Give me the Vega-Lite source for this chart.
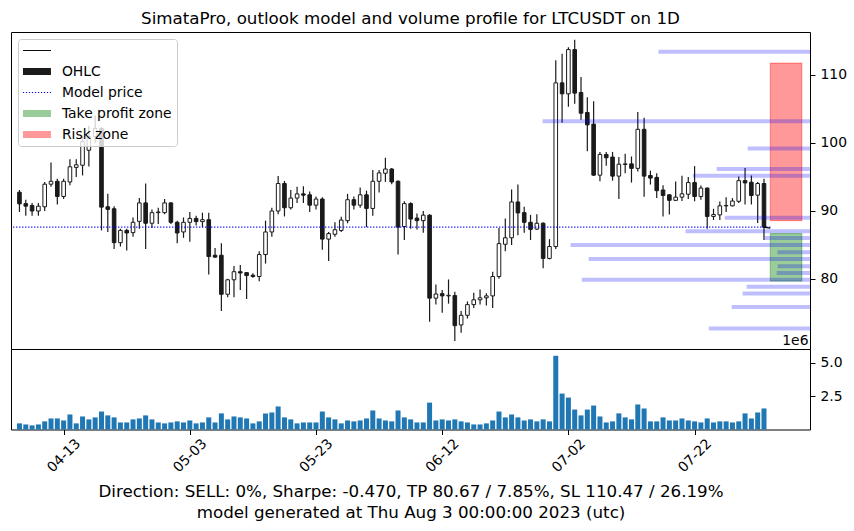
{
  "$schema": "https://vega.github.io/schema/vega-lite/v6.json",
  "background": "white",
  "padding": {"left": 10, "top": 10, "right": 0, "bottom": 0},
  "datasets": {
    "ohlc": [
      {"date":"2023-04-06","open":92.73,"high":93.06,"low":89.83,"close":91.02,"volume":460000},
      {"date":"2023-04-07","open":91.06,"high":91.63,"low":89.26,"close":90.68,"volume":380000},
      {"date":"2023-04-08","open":90.78,"high":91.16,"low":89.26,"close":89.97,"volume":310000},
      {"date":"2023-04-09","open":89.97,"high":91.16,"low":89.26,"close":90.68,"volume":380000},
      {"date":"2023-04-10","open":90.59,"high":94.24,"low":89.97,"close":93.91,"volume":610000},
      {"date":"2023-04-11","open":93.91,"high":97.09,"low":93.53,"close":94.34,"volume":830000},
      {"date":"2023-04-12","open":94.34,"high":94.72,"low":90.92,"close":92.11,"volume":830000},
      {"date":"2023-04-13","open":92.11,"high":94.72,"low":91.73,"close":94.34,"volume":680000},
      {"date":"2023-04-14","open":94.24,"high":97.57,"low":93.77,"close":96.47,"volume":1130000},
      {"date":"2023-04-15","open":96.38,"high":97.57,"low":94.96,"close":96.76,"volume":460000},
      {"date":"2023-04-16","open":96.7,"high":101.0,"low":95.2,"close":100.2,"volume":980000},
      {"date":"2023-04-17","open":98.9,"high":102.5,"low":96.5,"close":100.9,"volume":760000},
      {"date":"2023-04-18","open":100.9,"high":104.0,"low":100.0,"close":102.1,"volume":910000},
      {"date":"2023-04-19","open":102.1,"high":102.3,"low":87.12,"close":90.54,"volume":1350000},
      {"date":"2023-04-20","open":90.59,"high":92.49,"low":86.89,"close":90.21,"volume":1060000},
      {"date":"2023-04-21","open":90.30,"high":90.68,"low":84.37,"close":85.32,"volume":910000},
      {"date":"2023-04-22","open":85.32,"high":87.36,"low":84.75,"close":87.12,"volume":530000},
      {"date":"2023-04-23","open":87.12,"high":87.36,"low":84.18,"close":86.74,"volume":530000},
      {"date":"2023-04-24","open":86.79,"high":89.02,"low":86.17,"close":88.31,"volume":760000},
      {"date":"2023-04-25","open":88.45,"high":91.87,"low":87.36,"close":91.16,"volume":830000},
      {"date":"2023-04-26","open":91.16,"high":94.01,"low":84.37,"close":88.17,"volume":1060000},
      {"date":"2023-04-27","open":88.17,"high":90.21,"low":87.46,"close":89.73,"volume":760000},
      {"date":"2023-04-28","open":89.73,"high":90.45,"low":88.07,"close":89.83,"volume":530000},
      {"date":"2023-04-29","open":89.73,"high":91.73,"low":89.50,"close":91.16,"volume":460000},
      {"date":"2023-04-30","open":91.16,"high":91.25,"low":88.07,"close":88.31,"volume":530000},
      {"date":"2023-05-01","open":88.31,"high":88.55,"low":85.23,"close":86.74,"volume":610000},
      {"date":"2023-05-02","open":86.89,"high":89.02,"low":86.03,"close":88.31,"volume":530000},
      {"date":"2023-05-03","open":88.31,"high":89.83,"low":85.46,"close":88.88,"volume":680000},
      {"date":"2023-05-04","open":88.88,"high":89.26,"low":87.84,"close":88.41,"volume":460000},
      {"date":"2023-05-05","open":88.41,"high":89.73,"low":87.60,"close":88.69,"volume":530000},
      {"date":"2023-05-06","open":88.69,"high":89.73,"low":80.62,"close":83.28,"volume":910000},
      {"date":"2023-05-07","open":83.47,"high":84.52,"low":83.09,"close":83.19,"volume":530000},
      {"date":"2023-05-08","open":83.47,"high":85.23,"low":75.26,"close":77.73,"volume":1210000},
      {"date":"2023-05-09","open":77.73,"high":80.00,"low":77.30,"close":79.86,"volume":760000},
      {"date":"2023-05-10","open":79.86,"high":81.90,"low":77.30,"close":81.05,"volume":980000},
      {"date":"2023-05-11","open":81.05,"high":82.05,"low":78.34,"close":80.86,"volume":910000},
      {"date":"2023-05-12","open":80.91,"high":80.96,"low":77.02,"close":80.48,"volume":830000},
      {"date":"2023-05-13","open":80.53,"high":80.81,"low":80.15,"close":80.34,"volume":460000},
      {"date":"2023-05-14","open":80.34,"high":84.04,"low":79.63,"close":83.57,"volume":610000},
      {"date":"2023-05-15","open":83.57,"high":88.55,"low":82.24,"close":86.89,"volume":1210000},
      {"date":"2023-05-16","open":86.89,"high":90.45,"low":86.17,"close":89.97,"volume":1280000},
      {"date":"2023-05-17","open":89.97,"high":95.10,"low":89.50,"close":94.01,"volume":1730000},
      {"date":"2023-05-18","open":94.01,"high":94.39,"low":89.17,"close":90.45,"volume":910000},
      {"date":"2023-05-19","open":90.45,"high":93.06,"low":90.21,"close":91.87,"volume":760000},
      {"date":"2023-05-20","open":91.87,"high":93.53,"low":91.16,"close":92.49,"volume":460000},
      {"date":"2023-05-21","open":92.49,"high":93.62,"low":91.16,"close":92.30,"volume":530000},
      {"date":"2023-05-22","open":92.35,"high":92.82,"low":89.83,"close":90.83,"volume":530000},
      {"date":"2023-05-23","open":90.83,"high":92.11,"low":90.21,"close":91.73,"volume":530000},
      {"date":"2023-05-24","open":91.73,"high":92.01,"low":84.28,"close":85.84,"volume":1350000},
      {"date":"2023-05-25","open":85.84,"high":86.89,"low":82.62,"close":86.65,"volume":910000},
      {"date":"2023-05-26","open":86.55,"high":88.31,"low":86.17,"close":87.22,"volume":760000},
      {"date":"2023-05-27","open":87.12,"high":89.12,"low":86.89,"close":88.64,"volume":460000},
      {"date":"2023-05-28","open":88.55,"high":92.49,"low":88.17,"close":91.63,"volume":680000},
      {"date":"2023-05-29","open":91.63,"high":92.11,"low":90.21,"close":90.83,"volume":610000},
      {"date":"2023-05-30","open":90.83,"high":93.44,"low":90.45,"close":92.35,"volume":680000},
      {"date":"2023-05-31","open":92.35,"high":92.96,"low":87.60,"close":90.35,"volume":830000},
      {"date":"2023-06-01","open":90.35,"high":96.00,"low":89.26,"close":94.34,"volume":1430000},
      {"date":"2023-06-02","open":94.34,"high":96.00,"low":92.68,"close":95.57,"volume":830000},
      {"date":"2023-06-03","open":95.52,"high":97.80,"low":94.24,"close":96.14,"volume":680000},
      {"date":"2023-06-04","open":96.14,"high":96.28,"low":93.91,"close":94.24,"volume":610000},
      {"date":"2023-06-05","open":94.34,"high":94.48,"low":83.57,"close":87.60,"volume":1430000},
      {"date":"2023-06-06","open":87.69,"high":91.40,"low":85.70,"close":91.06,"volume":910000},
      {"date":"2023-06-07","open":91.06,"high":91.25,"low":87.36,"close":88.79,"volume":760000},
      {"date":"2023-06-08","open":88.93,"high":89.59,"low":87.27,"close":88.55,"volume":530000},
      {"date":"2023-06-09","open":88.55,"high":89.97,"low":86.79,"close":89.36,"volume":530000},
      {"date":"2023-06-10","open":89.36,"high":89.50,"low":73.69,"close":77.16,"volume":2020000},
      {"date":"2023-06-11","open":77.16,"high":79.15,"low":76.21,"close":77.77,"volume":680000},
      {"date":"2023-06-12","open":77.82,"high":78.34,"low":75.02,"close":77.49,"volume":760000},
      {"date":"2023-06-13","open":77.49,"high":79.91,"low":76.35,"close":77.58,"volume":680000},
      {"date":"2023-06-14","open":77.54,"high":78.11,"low":70.85,"close":73.12,"volume":760000},
      {"date":"2023-06-15","open":73.22,"high":75.26,"low":72.08,"close":74.64,"volume":610000},
      {"date":"2023-06-16","open":74.64,"high":76.68,"low":74.17,"close":76.21,"volume":530000},
      {"date":"2023-06-17","open":76.21,"high":77.96,"low":75.73,"close":76.92,"volume":380000},
      {"date":"2023-06-18","open":76.92,"high":78.44,"low":76.21,"close":77.21,"volume":380000},
      {"date":"2023-06-19","open":77.21,"high":77.87,"low":76.07,"close":77.49,"volume":460000},
      {"date":"2023-06-20","open":77.49,"high":81.05,"low":75.73,"close":80.34,"volume":680000},
      {"date":"2023-06-21","open":80.34,"high":87.46,"low":80.00,"close":85.18,"volume":1350000},
      {"date":"2023-06-22","open":85.08,"high":88.88,"low":84.04,"close":86.03,"volume":910000},
      {"date":"2023-06-23","open":86.03,"high":93.15,"low":84.99,"close":91.30,"volume":1130000},
      {"date":"2023-06-24","open":91.30,"high":93.86,"low":86.41,"close":89.69,"volume":910000},
      {"date":"2023-06-25","open":89.73,"high":90.59,"low":86.79,"close":88.31,"volume":680000},
      {"date":"2023-06-26","open":88.31,"high":89.40,"low":85.70,"close":87.27,"volume":760000},
      {"date":"2023-06-27","open":87.31,"high":89.50,"low":87.17,"close":88.17,"volume":610000},
      {"date":"2023-06-28","open":88.17,"high":88.31,"low":81.57,"close":83.00,"volume":760000},
      {"date":"2023-06-29","open":83.00,"high":85.84,"low":82.85,"close":84.75,"volume":610000},
      {"date":"2023-06-30","open":84.75,"high":112.14,"low":84.37,"close":108.81,"volume":5540000},
      {"date":"2023-07-01","open":108.81,"high":113.09,"low":102.93,"close":107.20,"volume":2700000},
      {"date":"2023-07-02","open":107.20,"high":114.03,"low":105.30,"close":113.70,"volume":2400000},
      {"date":"2023-07-03","open":113.70,"high":115.13,"low":105.73,"close":107.30,"volume":1500000},
      {"date":"2023-07-04","open":107.39,"high":109.67,"low":103.40,"close":104.35,"volume":1060000},
      {"date":"2023-07-05","open":104.45,"high":106.68,"low":98.75,"close":102.64,"volume":1500000},
      {"date":"2023-07-06","open":102.74,"high":106.11,"low":95.10,"close":95.24,"volume":1800000},
      {"date":"2023-07-07","open":95.24,"high":98.66,"low":94.34,"close":98.28,"volume":980000},
      {"date":"2023-07-08","open":98.28,"high":98.66,"low":96.62,"close":97.80,"volume":530000},
      {"date":"2023-07-09","open":97.90,"high":98.66,"low":94.43,"close":95.10,"volume":610000},
      {"date":"2023-07-10","open":95.10,"high":97.90,"low":91.73,"close":96.85,"volume":1210000},
      {"date":"2023-07-11","open":96.81,"high":98.37,"low":95.52,"close":96.90,"volume":910000},
      {"date":"2023-07-12","open":96.90,"high":97.99,"low":94.15,"close":96.24,"volume":760000},
      {"date":"2023-07-13","open":96.24,"high":104.54,"low":95.76,"close":101.98,"volume":1880000},
      {"date":"2023-07-14","open":101.98,"high":103.69,"low":92.06,"close":95.10,"volume":1580000},
      {"date":"2023-07-15","open":95.19,"high":95.90,"low":93.86,"close":94.81,"volume":610000},
      {"date":"2023-07-16","open":94.91,"high":95.52,"low":91.87,"close":92.96,"volume":610000},
      {"date":"2023-07-17","open":93.06,"high":93.77,"low":89.17,"close":92.25,"volume":910000},
      {"date":"2023-07-18","open":92.35,"high":92.44,"low":89.45,"close":91.54,"volume":680000},
      {"date":"2023-07-19","open":91.54,"high":94.29,"low":91.44,"close":92.01,"volume":680000},
      {"date":"2023-07-20","open":92.01,"high":95.15,"low":91.44,"close":92.49,"volume":830000},
      {"date":"2023-07-21","open":92.44,"high":94.96,"low":91.73,"close":94.15,"volume":680000},
      {"date":"2023-07-22","open":94.15,"high":96.57,"low":91.40,"close":92.11,"volume":610000},
      {"date":"2023-07-23","open":92.11,"high":93.72,"low":91.63,"close":93.34,"volume":530000},
      {"date":"2023-07-24","open":93.34,"high":93.44,"low":87.36,"close":89.17,"volume":830000},
      {"date":"2023-07-25","open":89.17,"high":90.30,"low":88.64,"close":89.45,"volume":530000},
      {"date":"2023-07-26","open":89.40,"high":91.35,"low":88.64,"close":90.73,"volume":610000},
      {"date":"2023-07-27","open":90.73,"high":92.01,"low":89.83,"close":90.78,"volume":610000},
      {"date":"2023-07-28","open":90.73,"high":91.87,"low":90.64,"close":91.44,"volume":530000},
      {"date":"2023-07-29","open":91.40,"high":95.05,"low":91.16,"close":94.43,"volume":610000},
      {"date":"2023-07-30","open":94.43,"high":96.28,"low":90.92,"close":94.10,"volume":1210000},
      {"date":"2023-07-31","open":94.20,"high":95.19,"low":90.92,"close":92.25,"volume":830000},
      {"date":"2023-08-01","open":92.30,"high":94.24,"low":88.22,"close":94.01,"volume":1280000},
      {"date":"2023-08-02","open":94.01,"high":94.72,"low":85.70,"close":87.60,"volume":1580000}
    ],
    "profile": [
      {"price":113.4,"vol":56.9},{"price":103.16,"vol":100.4},{"price":99.15,"vol":23.4},
      {"price":96.15,"vol":35.0},{"price":95.15,"vol":44.0},{"price":88.98,"vol":32.0},
      {"price":86.99,"vol":46.7},{"price":85.99,"vol":17.0},{"price":84.99,"vol":89.9},
      {"price":83.9,"vol":12.2},{"price":82.9,"vol":83.1},{"price":81.85,"vol":12.1},
      {"price":80.85,"vol":12.5},{"price":79.85,"vol":85.7},{"price":78.85,"vol":23.8},
      {"price":77.85,"vol":25.3},{"price":75.85,"vol":29.4},{"price":72.7,"vol":38.0}
    ],
    "model": [
      {"date":"2023-04-05","price":87.6,"series":"Model price"},
      {"date":"2023-08-03","price":87.6,"series":"Model price"}
    ],
    "lastline": [
      {"date":"2023-08-02","price":87.6},
      {"date":"2023-08-03","price":87.46}
    ],
    "zones": [
      {"series":"Take profit zone","start":"2023-08-03","end":"2023-08-08","lo":79.67,"hi":86.65},
      {"series":"Risk zone","start":"2023-08-03","end":"2023-08-08","lo":88.55,"hi":111.71}
    ]
  },
  "spacing": 0,
  "bounds": "flush",
  "resolve": {
    "scale": {"color": "independent", "strokeDash": "independent", "strokeWidth": "independent"},
    "legend": {"color": "independent", "strokeDash": "independent", "strokeWidth": "independent"}
  },
  "vconcat": [
    {
      "width": 799,
      "height": 317,
      "title": {"text": "SimataPro, outlook model and volume profile for LTCUSDT on 1D", "fontSize": 16.7, "fontWeight": "normal", "font": "DejaVu Sans", "color": "black", "offset": 4, "anchor": "middle"},
      "layer": [
        {
          "layer": [
            {
              "data": {"name": "ohlc"},
              "mark": {"type": "rule", "color": "#1a1a1a", "strokeWidth": 1.2},
              "encoding": {
                "x": {"field": "date", "type": "temporal", "axis": null, "scale": {"type": "utc", "nice": false, "domain": [{"year": 2023, "month": 4, "date": 5, "hours": 10, "minutes": 50, "utc": true}, {"year": 2023, "month": 8, "date": 8, "hours": 12, "utc": true}]}},
                "y": {"field": "low", "type": "quantitative", "scale": {"domain": [70.42, 115.55], "nice": false, "zero": false},
                  "axis": {"orient": "right", "values": [80, 90, 100, 110], "title": "1e6", "titleAngle": 0, "titleAlign": "right", "titleBaseline": "bottom", "titleX": -2, "titleY": 315, "titleFontSize": 13.9, "titleFontWeight": "normal"}},
                "y2": {"field": "high"}
              }
            },
            {
              "data": {"name": "ohlc"},
              "mark": {"type": "bar", "size": 3.6, "stroke": "#1a1a1a", "strokeWidth": 1},
              "encoding": {
                "x": {"field": "date", "type": "temporal", "axis": null},
                "y": {"field": "open", "type": "quantitative"},
                "y2": {"field": "close"},
                "fill": {"condition": {"test": "datum.close >= datum.open", "value": "white"}, "value": "#1a1a1a"}
              }
            },
            {
              "data": {"name": "zones"},
              "mark": {"type": "rect"},
              "encoding": {
                "x": {"field": "start", "type": "temporal", "axis": null},
                "x2": {"field": "end"},
                "y": {"field": "lo", "type": "quantitative"},
                "y2": {"field": "hi"},
                "color": {
                  "field": "series", "type": "nominal", "title": null,
                  "scale": {"domain": ["", "OHLC", "Model price", "Take profit zone", "Risk zone"], "range": ["black", "#1a1a1a", "blue", "rgba(0,128,0,0.4)", "rgba(255,0,0,0.4)"]}
                }
              }
            },
            {
              "data": {"name": "zones"},
              "mark": {"type": "rect", "filled": false, "strokeWidth": 1},
              "encoding": {
                "x": {"field": "start", "type": "temporal", "axis": null},
                "x2": {"field": "end"},
                "y": {"field": "lo", "type": "quantitative"},
                "y2": {"field": "hi"},
                "stroke": {"condition": {"test": "datum.series === 'Risk zone'", "value": "rgba(255,0,0,0.4)"}, "value": "rgba(0,128,0,0.4)"}
              }
            },
            {
              "data": {"name": "model"},
              "mark": {"type": "line", "clip": true},
              "encoding": {
                "x": {"field": "date", "type": "temporal", "axis": null},
                "y": {"field": "price", "type": "quantitative"},
                "color": {"field": "series", "type": "nominal", "title": null},
                "strokeDash": {"field": "series", "type": "nominal", "title": null, "scale": {"domain": ["", "OHLC", "Model price", "Take profit zone", "Risk zone"], "range": [[1, 0], [1, 0], [1.2, 1.8], [1, 0], [1, 0]]}},
                "strokeWidth": {"field": "series", "type": "nominal", "title": null, "scale": {"type": "ordinal", "domain": ["", "OHLC", "Model price", "Take profit zone", "Risk zone"], "range": [1, 7, 1.1, 7, 7]}}
              }
            },
            {
              "data": {"name": "lastline"},
              "mark": {"type": "line", "color": "black", "strokeWidth": 1.2},
              "encoding": {
                "x": {"field": "date", "type": "temporal", "axis": null},
                "y": {"field": "price", "type": "quantitative"}
              }
            }
          ]
        },
        {
          "data": {"name": "profile"},
          "mark": {"type": "bar", "orient": "horizontal", "size": 4, "color": "blue", "opacity": 0.25},
          "encoding": {
            "x": {"field": "vol", "type": "quantitative", "axis": null, "scale": {"domain": [0, 300], "reverse": true, "nice": false}},
            "y": {"field": "price", "type": "quantitative"}
          }
        }
      ],
      "resolve": {"scale": {"x": "independent"}}
    },
    {
      "width": 799,
      "height": 80.5,
      "data": {"name": "ohlc"},
      "mark": {"type": "bar", "size": 5, "color": "#1f77b4"},
      "encoding": {
        "x": {
          "field": "date", "type": "temporal",
          "scale": {"type": "utc", "nice": false, "domain": [{"year": 2023, "month": 4, "date": 5, "hours": 10, "minutes": 50, "utc": true}, {"year": 2023, "month": 8, "date": 8, "hours": 12, "utc": true}]},
          "axis": {
            "values": [
              {"year": 2023, "month": 4, "date": 13, "utc": true},
              {"year": 2023, "month": 5, "date": 3, "utc": true},
              {"year": 2023, "month": 5, "date": 23, "utc": true},
              {"year": 2023, "month": 6, "date": 12, "utc": true},
              {"year": 2023, "month": 7, "date": 2, "utc": true},
              {"year": 2023, "month": 7, "date": 22, "utc": true}
            ],
            "format": "%m-%d",
            "labelAngle": -45,
            "labelAlign": "center",
            "labelBaseline": "middle",
            "labelPadding": 21,
            "labelOverlap": false,
            "labelFlush": false,
            "labelBound": false,
            "title": ["Direction: SELL: 0%, Sharpe: -0.470, TP 80.67 / 7.85%,  SL 110.47 / 26.19%", "model generated at Thu Aug  3 00:00:00 2023 (utc)"],
            "titleFontSize": 16.7,
            "titleFontWeight": "normal",
            "titlePadding": 9,
            "titleLineHeight": 21
          }
        },
        "y": {
          "field": "volume", "type": "quantitative",
          "scale": {"domain": [0, 6050000], "nice": false},
          "axis": {
            "orient": "right",
            "values": [2500000, 5000000],
            "labelExpr": "format(datum.value / 1000000, '.1f')",
            "title": null
          }
        }
      }
    }
  ],
  "config": {
    "view": {"stroke": "black", "strokeWidth": 1},
    "font": "DejaVu Sans",
    "axis": {
      "labelFont": "DejaVu Sans", "titleFont": "DejaVu Sans",
      "labelColor": "black", "tickColor": "black", "titleColor": "black",
      "grid": false, "domain": false, "labelFontSize": 13.9,
      "tickSize": 5, "tickWidth": 1, "labelPadding": 5
    },
    "legend": {
      "orient": "top-left",
      "offset": 7,
      "direction": "vertical",
      "padding": 4.5,
      "fillColor": "rgba(255,255,255,0.8)",
      "strokeColor": "#cccccc",
      "cornerRadius": 3,
      "labelFontSize": 13.9,
      "labelFont": "DejaVu Sans",
      "labelColor": "black",
      "labelOffset": 25,
      "symbolSize": 4,
      "symbolOffset": 0.5,
      "symbolType": "M-7,0H21",
      "clipHeight": 14,
      "rowPadding": 7
    }
  }
}
